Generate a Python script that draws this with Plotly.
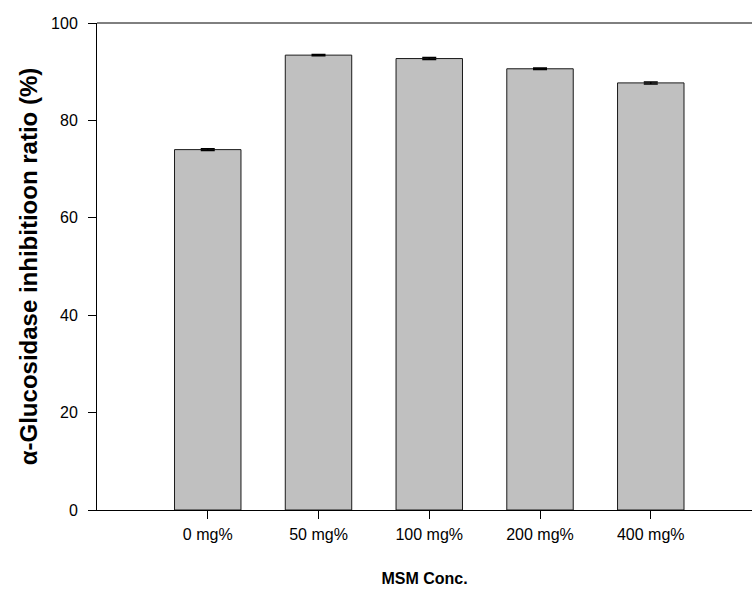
import plotly.graph_objects as go

categories = ["0 mg%", "50 mg%", "100 mg%", "200 mg%", "400 mg%"]
inhibition = [74.0, 93.4, 92.7, 90.6, 87.7]
errors = [0.2, 0.15, 0.2, 0.15, 0.2]
y_ticks = [0, 20, 40, 60, 80, 100]

font_family = "Liberation Sans, Arial, sans-serif"

fig = go.Figure(
    go.Bar(
        x=list(range(len(categories))),
        y=inhibition,
        width=0.6,
        marker=dict(color="#c0c0c0", line=dict(color="#1a1a1a", width=1)),
        error_y=dict(type="data", array=errors, visible=True,
                     color="#000000", thickness=1.5, width=7),
    )
)

fig.update_layout(
    width=752,
    height=589,
    margin=dict(l=97, r=0, t=23, b=79),
    paper_bgcolor="white",
    plot_bgcolor="white",
    showlegend=False,
    font=dict(family=font_family, size=16, color="black"),
    bargap=0.4,
    # top frame line (no right spine)
    shapes=[dict(type="line", xref="paper", yref="paper", x0=0, x1=1, y0=1, y1=1,
                 line=dict(color="black", width=1))],
)

fig.update_xaxes(
    range=[-1, 4.914],
    tickmode="array",
    tickvals=list(range(len(categories))),
    ticktext=categories,
    ticks="outside",
    ticklen=8,
    tickcolor="black",
    showline=True,
    linecolor="black",
    linewidth=1,
    showgrid=False,
    zeroline=False,
    tickfont=dict(size=16),
    ticklabelstandoff=2,
    title=dict(text="<b>MSM Conc.</b>", font=dict(size=16), standoff=30),
)

fig.update_yaxes(
    range=[0, 100],
    tickmode="array",
    tickvals=y_ticks,
    ticks="outside",
    ticklen=8,
    tickcolor="black",
    showline=True,
    linecolor="black",
    linewidth=1,
    showgrid=False,
    zeroline=False,
    tickfont=dict(size=16),
    ticklabelstandoff=7,
    title=dict(text="<b>α-Glucosidase inhibitioon ratio (%)</b>", font=dict(size=24), standoff=6),
)

fig.write_html("out.html")
